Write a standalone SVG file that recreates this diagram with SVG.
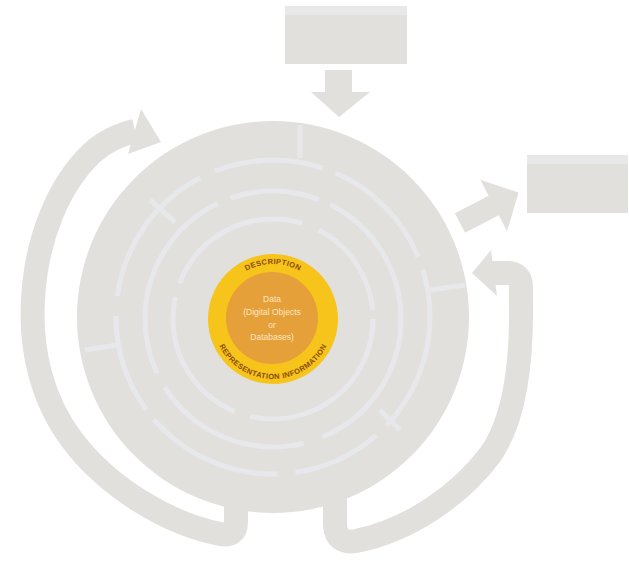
<svg xmlns="http://www.w3.org/2000/svg" width="629" height="563" viewBox="0 0 629 563">
  <style>
    .band { fill: none; stroke: #e2e0dd; stroke-width: 24; stroke-linejoin: round; stroke-linecap: butt; }
    .grey { fill: #e2e0dd; }
    .box { fill: #e2e0dd; }
    .strip { fill: #e8e8e9; }
    .sep { fill: none; stroke: #e7e8eb; stroke-width: 5; }
    .ring { font-family: "Liberation Sans", Arial, sans-serif; font-weight: bold; font-size: 7.5px; fill: #8a4b0c; letter-spacing: 0.4px; }
    .core { font-family: "Liberation Sans", Arial, sans-serif; font-size: 8.5px; fill: #fbe6c2; text-anchor: middle; }
  </style>
  <defs>
    <path id="topArc" d="M 218,319 A 55,55 0 0 1 328,319"/>
    <path id="botArc" d="M 213,319 A 60,60 0 0 0 333,319"/>
  </defs>
  <rect width="629" height="563" fill="#ffffff"/>

  <g id="connectors">
    <!-- left return arc with arrowhead -->
    <path class="band" d="M 236,490 L 236,522 Q 236,537 220,534 C 170,524 110,490 72,440 C 42,400 30,350 33,300 C 36,240 58,185 92,153 C 105,141 118,135 135,131"/>
    <polygon class="grey" points="141,109 161,142 128,154"/>
    <!-- right return arc with arrowhead -->
    <path class="band" d="M 335,490 L 335,525 Q 336,544 356,541 C 410,530 460,495 490,455 C 515,420 522,360 521,300 L 521,287 Q 521,273 507,273 L 490,273"/>
    <polygon class="grey" points="491,250 497,296 472,273"/>
    <!-- down arrow from top box -->
    <polygon class="grey" points="325,70 352,70 352,92 370,92 339,117 311,92 325,92"/>
    <!-- arrow out to right box -->
    <g transform="translate(460,223) rotate(-27.5)">
      <polygon class="grey" points="0,-11 38,-11 38,-29 66,0 38,29 38,11 0,11"/>
    </g>
  </g>

  <g id="top-box">
    <rect class="box" x="285" y="6" width="122" height="58"/>
    <rect class="strip" x="285" y="6" width="122" height="9"/>
  </g>

  <g id="right-box">
    <rect class="box" x="527" y="155" width="101" height="58"/>
    <rect class="strip" x="527" y="155" width="101" height="9"/>
  </g>

  <g id="lifecycle">
    <circle class="grey" cx="273" cy="317" r="196"/>
    <circle class="sep" cx="273" cy="317" r="157" stroke-dasharray="120 14 90 18 140 12 100 20 150 16 110 14"/>
    <circle class="sep" cx="273" cy="319" r="128" stroke-dasharray="150 20 160 16 200 14 90 12"/>
    <circle class="sep" cx="273" cy="319" r="100" stroke-dasharray="180 16 140 14 150 18 100 12"/>
    <line class="sep" x1="150" y1="200" x2="175" y2="222"/>
    <line class="sep" x1="400" y1="430" x2="380" y2="410"/>
    <line class="sep" x1="300" y1="158" x2="300" y2="125"/>
    <line class="sep" x1="118" y1="345" x2="85" y2="350"/>
    <line class="sep" x1="430" y1="290" x2="465" y2="285"/>
  </g>

  <g id="representation-ring">
    <circle cx="273" cy="319" r="65" fill="#f6c41a"/>
    <text class="ring"><textPath href="#topArc" startOffset="50%" text-anchor="middle">DESCRIPTION</textPath></text>
    <text class="ring"><textPath href="#botArc" startOffset="50%" text-anchor="middle">REPRESENTATION INFORMATION</textPath></text>
  </g>

  <g id="data-core">
    <circle cx="272" cy="318" r="46" fill="#e5a03a"/>
    <text class="core" x="272" y="302">Data</text>
    <text class="core" x="272" y="315">(Digital Objects</text>
    <text class="core" x="272" y="328">or</text>
    <text class="core" x="272" y="340">Databases)</text>
  </g>
</svg>
